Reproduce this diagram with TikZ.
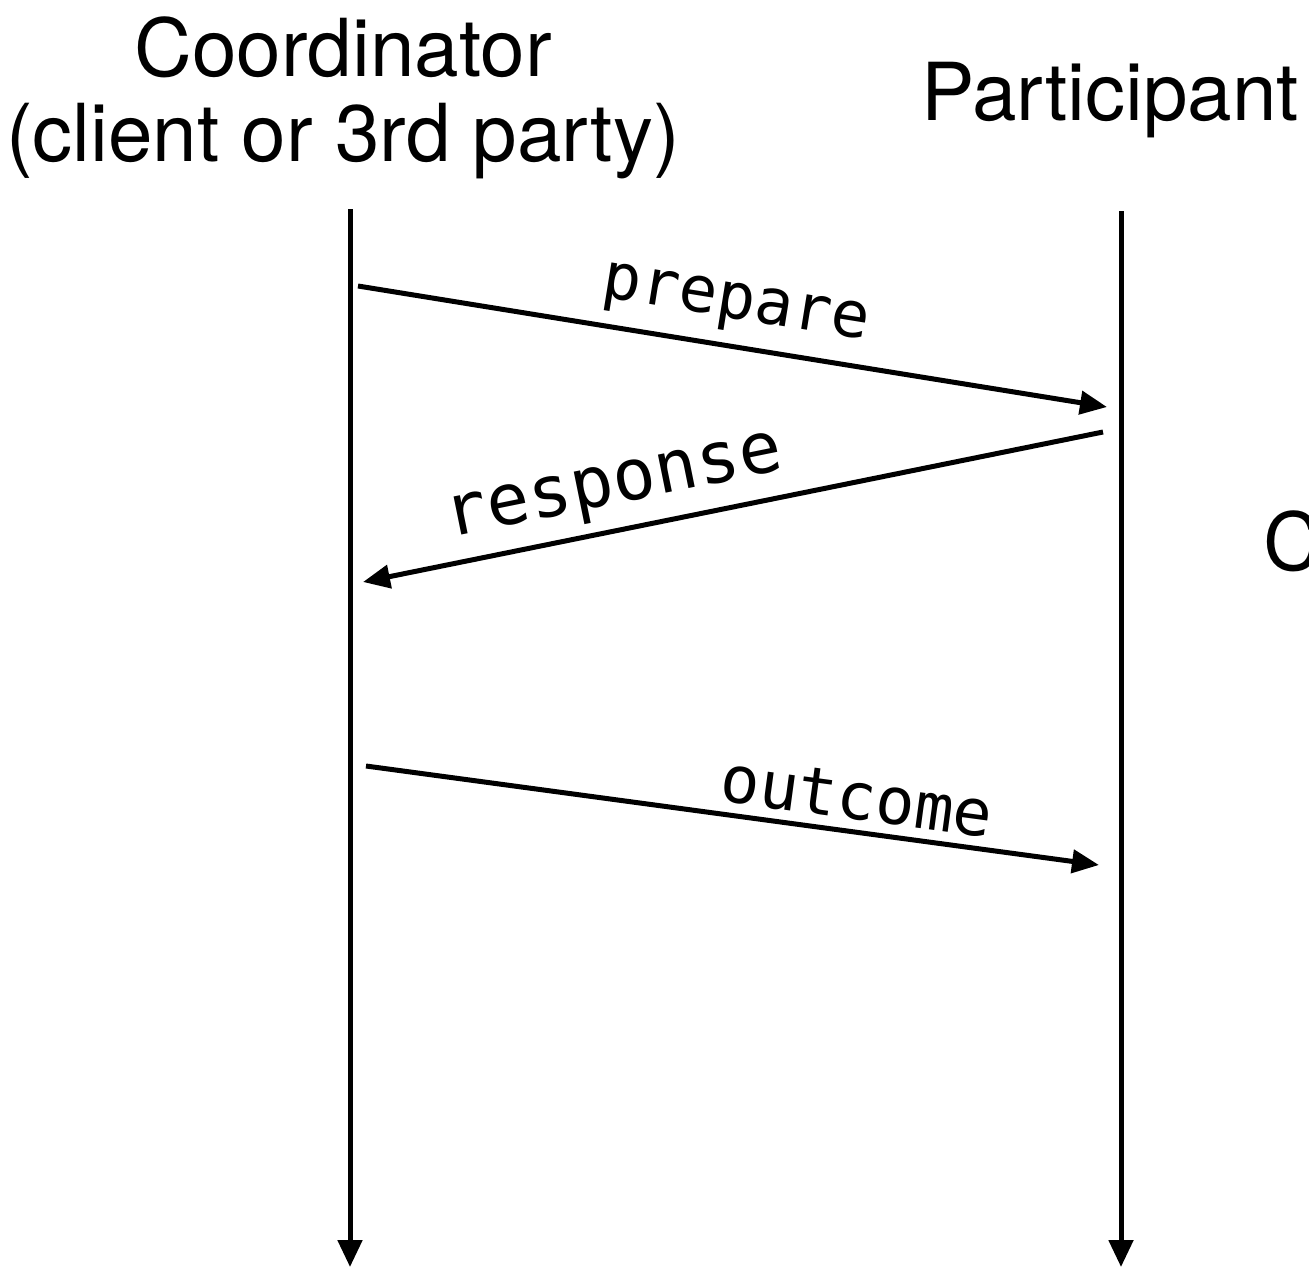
\documentclass[tikz,border=0pt]{standalone}
\usepackage{fontspec}
\setmainfont{TeX Gyre Heros}
\newfontfamily\codefont{DejaVu Sans Mono}
\usetikzlibrary{arrows.meta}

\tikzset{
  head/.style={font=\fontsize{80}{92}\selectfont, inner sep=0pt, anchor=base},
  lifeline/.style={line width=5pt, -{Triangle[length=27pt,width=24pt]}},
  msg/.style={line width=5pt, -{Triangle[length=27pt,width=23pt]}},
  lbl/.style={font=\codefont\fontsize{65}{70}\selectfont, inner sep=0pt}
}

\begin{document}
\begin{tikzpicture}[x=1pt,y=-1pt]
  \useasboundingbox (0,0) rectangle (1309,1269);

  % actor headings
  \node[head] (coordTitle) at (343,76) {Coordinator};
  \node[head] (coordSub)   at (343,161) {(client or 3rd party)};
  \node[head] (partTitle)  at (1110,120) {Participant};
  \node[head, anchor=base west] (sideLabel) at (1263,570) {C};

  % lifelines
  \coordinate (cTop) at (350,209);
  \coordinate (cEnd) at (350,1267);
  \coordinate (pTop) at (1121,211);
  \coordinate (pEnd) at (1121,1267);
  \draw[lifeline] (cTop) -- (cEnd);
  \draw[lifeline] (pTop) -- (pEnd);

  % message end points
  \coordinate (prepS) at (358,286);
  \coordinate (prepE) at (1107,407);
  \coordinate (respS) at (1103,432);
  \coordinate (respE) at (363,582);
  \coordinate (outS)  at (366,766);
  \coordinate (outE)  at (1099,865);

  % messages
  \draw[msg] (prepS) -- (prepE);
  \draw[msg] (respS) -- (respE);
  \draw[msg] (outS) -- (outE);

  % message labels
  \node[lbl, font=\codefont\fontsize{64}{70}\selectfont, rotate=-9.18] (prepLbl) at (735,307) {prepare};
  \node[lbl, font=\codefont\fontsize{71}{76}\selectfont, rotate=11.46] (respLbl) at (615,491) {response};
  \node[lbl, rotate=-7.69] (outLbl)  at (857,797) {outcome};
\end{tikzpicture}
\end{document}
